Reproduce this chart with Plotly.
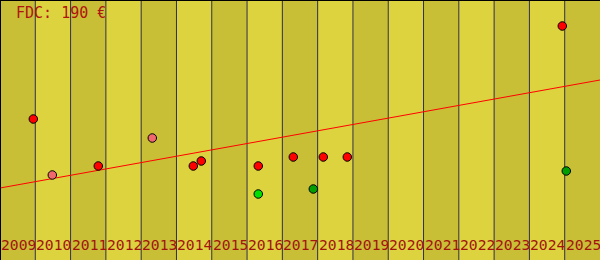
import plotly.graph_objects as go

years = list(range(2009, 2026))
title_text = "FDC: 190 €"

# observations (x = fractional year, y = value)
red_x = [2009.944, 2011.785, 2014.477, 2014.703, 2016.318, 2017.310, 2018.160, 2018.840, 2024.932]
red_y = [141, 94, 94, 99, 94, 103, 103, 103, 234]
pink_x = [2010.482, 2013.315]
pink_y = [85, 122]
green_x = [2016.318]
green_y = [66]
dkgreen_x = [2017.877, 2025.045]
dkgreen_y = [71, 89]

trend_x = [2009, 2026]
trend_y = [72, 180]

Y_MAX = 260

fig = go.Figure()

# background columns
fig.add_trace(go.Bar(
    x=years, y=[Y_MAX] * len(years), base=0, width=1, offset=0,
    marker=dict(color=["#C9BF36" if i % 2 == 0 else "#DDD33E" for i in range(len(years))],
                line=dict(width=0)),
    hoverinfo="skip", showlegend=False,
))

# vertical separators
vx, vy = [], []
for yr in years[1:]:
    vx += [yr, yr, None]
    vy += [0, Y_MAX, None]
fig.add_trace(go.Scatter(x=vx, y=vy, mode="lines",
                         line=dict(color="#30304A", width=1),
                         hoverinfo="skip", showlegend=False))

# trend line
fig.add_trace(go.Scatter(x=trend_x, y=trend_y, mode="lines",
                         line=dict(color="#FF0000", width=1), showlegend=False))

def pts(x, y, c):
    fig.add_trace(go.Scatter(x=x, y=y, mode="markers",
                             marker=dict(color=c, size=8.5, line=dict(color="#000000", width=1)),
                             showlegend=False))

pts(red_x, red_y, "#FF0000")
pts(pink_x, pink_y, "#F0686E")
pts(green_x, green_y, "#00E000")
pts(dkgreen_x, dkgreen_y, "#009E00")

font = dict(family="DejaVu Sans Mono", size=14.7, color="#A31410")
tfont = dict(family="DejaVu Sans Mono", size=15, color="#B01410")

for yr in years:
    fig.add_annotation(x=yr, y=15.5, xref="x", yref="y", text=str(yr),
                       showarrow=False, xanchor="left", yanchor="middle",
                       borderpad=0, font=font)

fig.add_annotation(x=0, y=1, xref="paper", yref="paper", text=title_text,
                   showarrow=False, xanchor="left", yanchor="top",
                   xshift=15, yshift=-3, borderpad=0, font=tfont)

fig.add_shape(type="line", xref="paper", yref="paper", x0=0, x1=1, y0=1, y1=1,
              line=dict(color="#000000", width=2))
fig.add_shape(type="line", xref="paper", yref="paper", x0=0, x1=0, y0=0, y1=1,
              line=dict(color="#000000", width=2))

fig.update_layout(
    width=600, height=260, margin=dict(l=0, r=0, t=0, b=0),
    paper_bgcolor="#DDD33E", plot_bgcolor="#DDD33E",
    bargap=0, showlegend=False,
    xaxis=dict(range=[2009, 2026], visible=False, fixedrange=True),
    yaxis=dict(range=[0, Y_MAX], visible=False, fixedrange=True),
)

fig.write_html("out.html")
